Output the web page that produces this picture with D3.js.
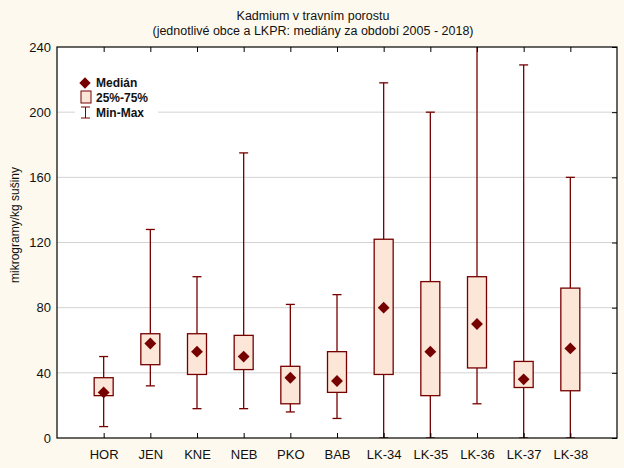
<!DOCTYPE html>
<html>
<head>
<meta charset="utf-8">
<script src="https://cdn.jsdelivr.net/npm/d3@7"></script>
<style>
  body { margin: 0; background: #fdf9ee; }
  text { font-family: Arial, "Liberation Sans", sans-serif; fill: #111; }
</style>
</head>
<body>
<div id="chart"></div>
<script>
// data
var categories = ["HOR", "JEN", "KNE", "NEB", "PKO", "BAB", "LK-34", "LK-35", "LK-36", "LK-37", "LK-38"];
var mins    = [7, 32, 18, 18, 16, 12, 0, 0, 21, 0, 0];
var q1      = [26, 45, 39, 42, 21, 28, 39, 26, 43, 31, 29];
var medians = [28, 58, 53, 50, 37, 35, 80, 53, 70, 36, 55];
var q3      = [37, 64, 64, 63, 44, 53, 122, 96, 99, 47, 92];
var maxs    = [50, 128, 99, 175, 82, 88, 218, 200, 260, 229, 160];
var yTicks  = [0, 40, 80, 120, 160, 200, 240];

var W = 624, H = 468;
var margin = {top: 47, right: 7, bottom: 30, left: 57},
    width = W - margin.left - margin.right,
    height = H - margin.top - margin.bottom;

var dark = "#760000", boxFill = "#fce6d8";

var svg = d3.select("#chart").append("svg")
    .attr("width", W)
    .attr("height", H);

// title
svg.append("text").attr("x", W / 2 + 1).attr("y", 20).attr("text-anchor", "middle")
    .style("font-size", "12.5px").text("Kadmium v travním porostu");
svg.append("text").attr("x", W / 2 + 1).attr("y", 35).attr("text-anchor", "middle")
    .style("font-size", "12.5px").text("(jednotlivé obce a LKPR: mediány za období 2005 - 2018)");

var g = svg.append("g")
    .attr("transform", "translate(" + margin.left + "," + margin.top + ")");

g.append("rect").attr("width", width).attr("height", height).attr("fill", "#fff");

var x = d3.scalePoint().domain(categories).range([0, width]).padding(1);
var y = d3.scaleLinear().domain([0, 240]).range([height, 0]);

// gridlines
g.selectAll(".grid").data(yTicks.slice(1, -1)).enter().append("line")
    .attr("x1", 0).attr("x2", width)
    .attr("y1", function(d) { return y(d); })
    .attr("y2", function(d) { return y(d); })
    .attr("stroke", "#d3d3d3");

// clip so whiskers stay inside the frame
g.append("clipPath").attr("id", "clip").append("rect")
    .attr("width", width).attr("height", height);

var rows = categories.map(function(c, i) {
  return {cat: c, min: mins[i], q1: q1[i], med: medians[i], q3: q3[i], max: maxs[i]};
});

var marks = g.append("g").attr("clip-path", "url(#clip)");
var bw = 19, cap = 9;

var item = marks.selectAll(".item").data(rows).enter().append("g")
    .attr("transform", function(d) { return "translate(" + x(d.cat) + ",0)"; });

item.append("line")
    .attr("y1", function(d) { return y(d.min); })
    .attr("y2", function(d) { return y(d.max); })
    .attr("stroke", dark).attr("stroke-width", 1.3);
item.append("line")
    .attr("x1", -cap / 2).attr("x2", cap / 2)
    .attr("y1", function(d) { return y(d.max); })
    .attr("y2", function(d) { return y(d.max); })
    .attr("stroke", dark).attr("stroke-width", 1.3);
item.append("line")
    .attr("x1", -cap / 2).attr("x2", cap / 2)
    .attr("y1", function(d) { return y(d.min); })
    .attr("y2", function(d) { return y(d.min); })
    .attr("stroke", dark).attr("stroke-width", 1.3);
item.append("rect")
    .attr("x", -bw / 2).attr("width", bw)
    .attr("y", function(d) { return y(d.q3); })
    .attr("height", function(d) { return y(d.q1) - y(d.q3); })
    .attr("fill", boxFill).attr("stroke", dark).attr("stroke-width", 1.3);
item.append("path")
    .attr("d", d3.symbol(d3.symbolSquare, 70))
    .attr("transform", function(d) { return "translate(0," + y(d.med) + ") rotate(45)"; })
    .attr("fill", dark);

// axes
var axL = g.append("g").call(d3.axisLeft(y).tickValues(yTicks).tickSize(0).tickPadding(6));
var axR = g.append("g").attr("transform", "translate(" + width + ",0)")
    .call(d3.axisLeft(y).tickValues(yTicks).tickSize(5).tickFormat(""));
var axB = g.append("g").attr("transform", "translate(0," + height + ")")
    .call(d3.axisTop(x).tickSize(5).tickFormat(""));
var axB2 = g.append("g").attr("transform", "translate(0," + height + ")")
    .call(d3.axisBottom(x).tickSize(0).tickPadding(12));
var axT = g.append("g").call(d3.axisBottom(x).tickSize(5).tickFormat(""));
[axL, axR, axB, axB2, axT].forEach(function(a) {
  a.select(".domain").remove();
  a.selectAll("line").attr("stroke", "#000");
  a.selectAll("text").style("font-size", "13px").attr("fill", "#111")
      .style("font-family", "Arial, 'Liberation Sans', sans-serif");
});

g.append("rect").attr("width", width).attr("height", height)
    .attr("fill", "none").attr("stroke", "#000").attr("stroke-width", 1.2);

// y title
svg.append("text")
    .attr("transform", "translate(19,225) rotate(-90)")
    .attr("text-anchor", "middle").style("font-size", "12px")
    .text("mikrogramy/kg sušiny");

// legend
var lg = g.append("g").attr("transform", "translate(18,28)");
lg.append("rect").attr("x", 0).attr("y", 0).attr("width", 83).attr("height", 48).attr("fill", "#fff");
lg.append("path").attr("d", d3.symbol(d3.symbolSquare, 64))
    .attr("transform", "translate(10,8) rotate(45)").attr("fill", dark);
lg.append("rect").attr("x", 6).attr("y", 16).attr("width", 10).attr("height", 12)
    .attr("fill", boxFill).attr("stroke", dark);
lg.append("line").attr("x1", 10.5).attr("x2", 10.5).attr("y1", 32).attr("y2", 43).attr("stroke", dark);
lg.append("line").attr("x1", 6).attr("x2", 15).attr("y1", 32).attr("y2", 32).attr("stroke", dark);
lg.append("line").attr("x1", 6).attr("x2", 15).attr("y1", 43).attr("y2", 43).attr("stroke", dark);
var labels = ["Medián", "25%-75%", "Min-Max"];
lg.selectAll(".lt").data(labels).enter().append("text")
    .attr("x", 21).attr("y", function(d, i) { return 12 + i * 15; })
    .style("font-size", "12px").style("font-weight", "bold")
    .text(function(d) { return d; });
</script>
</body>
</html>
